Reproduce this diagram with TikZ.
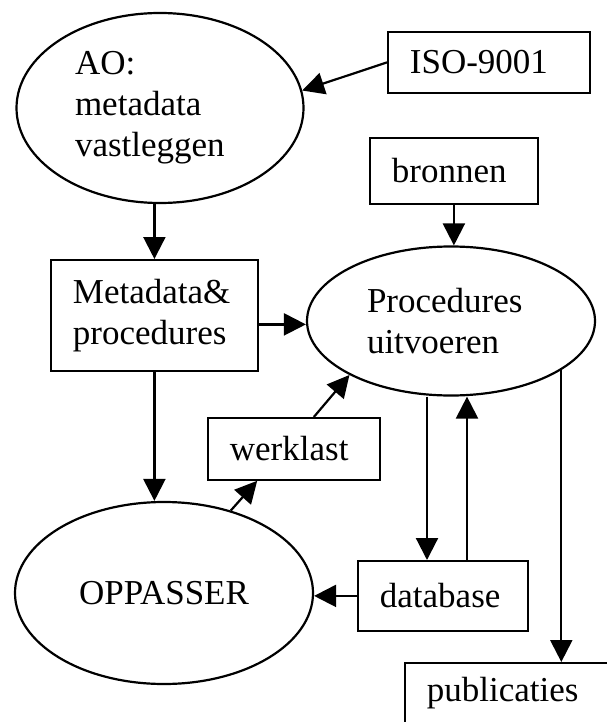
\documentclass[tikz,border=0pt]{standalone}
\usepackage{fontspec}
\setmainfont{Liberation Serif}
\usetikzlibrary{shapes.geometric,arrows.meta}

\begin{document}
\begin{tikzpicture}[x=1pt, y=-1pt,
    font=\fontsize{35}{41}\selectfont,
    box/.style={draw, line width=1.8pt, anchor=north west, align=left,
                inner xsep=22pt, inner ysep=0pt},
    oval/.style={draw, ellipse, line width=2.2pt, align=left},
    arr/.style={line width=2.2pt, -{Triangle[length=22pt, width=22pt]}}]
    \useasboundingbox (0,0) rectangle (607,722);
    \clip (0,0) rectangle (607,722);

    \node[oval, minimum width=287pt, minimum height=190pt, text width=170pt] (ao) at (160,108)
        {AO:\\metadata\\vastleggen};
    \node[oval, minimum width=288pt, minimum height=149pt, text width=168pt] (proc) at (451,321)
        {Procedures\\uitvoeren};
    \node[oval, minimum width=298pt, minimum height=182pt] (opp) at (164,593)
        {OPPASSER};

    \foreach \nm/\x/\y/\w/\h/\txt in {iso/387/31/202/61/ISO-9001,
                                      bron/369/137/168/66/bronnen,
                                      meta/50/259/207/111/{Metadata\&\\procedures},
                                      werk/207/417/172/62/werklast,
                                      db/357/560/170/70/database,
                                      pub/404/662/235/60/publicaties}
        {
            \pgfmathsetmacro\tw{\w-44}
            \node[box, text width=\tw pt, minimum height=\h pt] (\nm) at (\x,\y) {\txt};
        }

    \draw[arr] (iso.west) -- (ao.7);
    \draw[arr] (ao.south -| meta.north) -- (meta.north);
    \draw[arr] (bron.south) -- (bron.south |- proc.north);
    \draw[arr] ([yshift=-9pt]meta.east) -- ([yshift=-9pt]meta.east -| proc.west);
    \draw[arr] (meta.south) -- (meta.south |- opp.north);
    \draw[arr] (opp.51) -- (werk.221);
    \draw[arr] (werk.58) -- (proc.208);
    \draw[arr] ([xshift=-24pt]proc.south) -- ([xshift=-24pt]proc.south |- db.north);
    \draw[arr] ([xshift=16pt]proc.south |- db.north) -- ([xshift=16pt]proc.south);
    \draw[arr] (proc.336.6) -- (proc.336.6 |- pub.north);
    \draw[arr] (db.west) -- (db.west -| opp.east);
\end{tikzpicture}
\end{document}
